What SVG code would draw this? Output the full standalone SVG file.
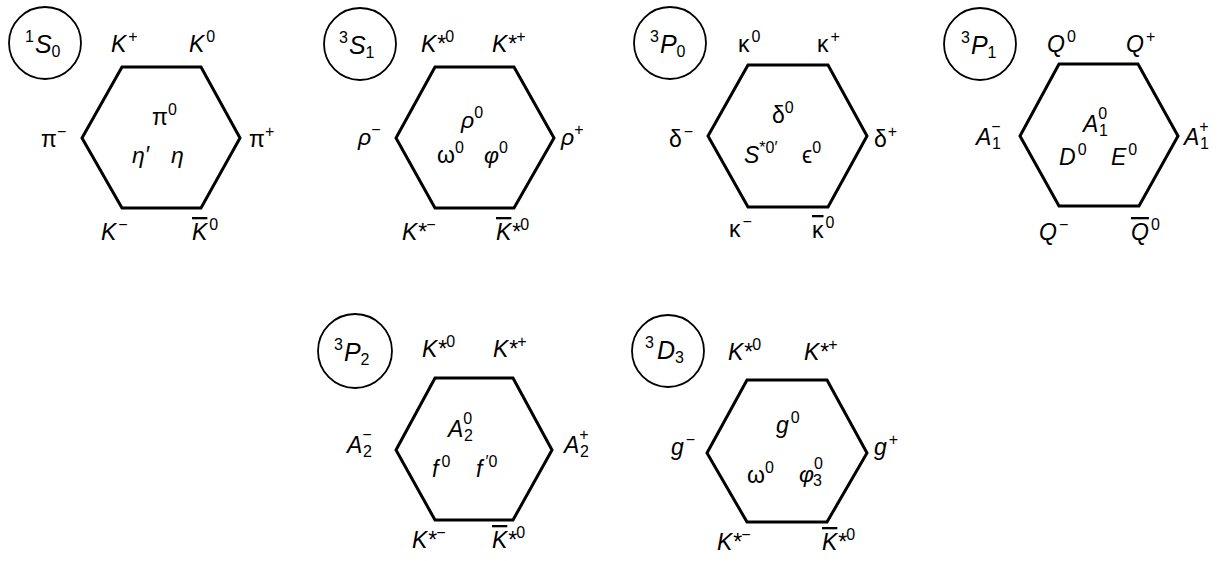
<svg xmlns="http://www.w3.org/2000/svg" width="1220" height="561" viewBox="0 0 1220 561">
<style>
.hex{fill:none;stroke:#000;stroke-width:3;stroke-linejoin:miter}
.ring{fill:none;stroke:#000;stroke-width:1.8}
text{font-family:"Liberation Sans",Arial,sans-serif;font-size:23px;font-style:italic;fill:#000}
.s{font-size:16px;font-style:normal}
.up{font-style:normal}
.t{font-size:25px}
.ob{text-decoration:overline}
</style>
<rect width="1220" height="561" fill="#fff"/>

<g id="m1S0">
<polygon class="hex" points="122,67 201,67 240,138 201,208 122,208 82,138"/>
<circle class="ring" cx="45" cy="43" r="36"/>
<text class="t" x="25" y="53"><tspan class="s" dy="-11">1</tspan><tspan dx="1" dy="11">S</tspan><tspan class="s" dy="4">0</tspan></text>
<text x="111" y="52">K<tspan class="s" dx="2" dy="-10">+</tspan></text>
<text x="189" y="52">K<tspan class="s" dx="2" dy="-10">0</tspan></text>
<text class="up" x="41" y="147">π<tspan class="s" dy="-10">−</tspan></text>
<text class="up" x="249" y="147">π<tspan class="s" dy="-10">+</tspan></text>
<text class="up" x="152" y="125">π<tspan class="s" dy="-10">0</tspan></text>
<text x="132" y="163">η′<tspan x="171">η</tspan></text>
<text x="101" y="240">K<tspan class="s" dx="2" dy="-10">−</tspan></text>
<text x="192" y="240"><tspan class="ob">K</tspan><tspan class="s" dx="2" dy="-10">0</tspan></text>
</g>

<g id="m3S1">
<polygon class="hex" points="435,67 514,67 554,138 514,208 435,208 396,138"/>
<circle class="ring" cx="360" cy="44" r="36"/>
<text class="t" x="339" y="54"><tspan class="s" dy="-11">3</tspan><tspan dx="1" dy="11">S</tspan><tspan class="s" dy="4">1</tspan></text>
<text x="421" y="52">K*<tspan class="s" dy="-10">0</tspan></text>
<text x="492" y="52">K*<tspan class="s" dy="-10">+</tspan></text>
<text x="358" y="145">ρ<tspan class="s" dy="-10">−</tspan></text>
<text x="561" y="145">ρ<tspan class="s" dy="-10">+</tspan></text>
<text x="461" y="128">ρ<tspan class="s" dy="-10">0</tspan></text>
<text class="up" x="437" y="163">ω<tspan class="s" dy="-10">0</tspan></text>
<text x="484" y="163">φ<tspan class="s" dy="-10">0</tspan></text>
<text x="402" y="240">K*<tspan class="s" dy="-10">−</tspan></text>
<text x="496" y="240"><tspan class="ob">K</tspan>*<tspan class="s" dy="-10">0</tspan></text>
</g>

<g id="m3P0">
<polygon class="hex" points="748,65 828,65 867,136 828,207 748,207 708,136"/>
<circle class="ring" cx="670" cy="43" r="36"/>
<text class="t" x="650" y="53"><tspan class="s" dy="-11">3</tspan><tspan dx="1" dy="11">P</tspan><tspan class="s" dy="4">0</tspan></text>
<text class="up" x="738" y="52">κ<tspan class="s" dx="2" dy="-10">0</tspan></text>
<text class="up" x="817" y="52">κ<tspan class="s" dx="2" dy="-10">+</tspan></text>
<text class="up" x="669" y="147">δ<tspan class="s" dx="2" dy="-10">−</tspan></text>
<text class="up" x="874" y="147">δ<tspan class="s" dx="1" dy="-10">+</tspan></text>
<text class="up" x="772" y="123">δ<tspan class="s" dy="-10">0</tspan></text>
<text x="744" y="163">S<tspan class="s" dy="-10">*0′</tspan></text>
<text class="up" x="802" y="163">ϵ<tspan class="s" dy="-10">0</tspan></text>
<text class="up" x="729" y="237">κ<tspan class="s" dx="2" dy="-10">−</tspan></text>
<text class="up" x="812" y="238"><tspan class="ob">κ</tspan><tspan class="s" dx="2" dy="-10">0</tspan></text>
</g>

<g id="m3P1">
<polygon class="hex" points="1059,64 1138,64 1178,136 1139,206 1059,206 1020,136"/>
<circle class="ring" cx="980" cy="44" r="36"/>
<text class="t" x="961" y="54"><tspan class="s" dy="-11">3</tspan><tspan dx="1" dy="11">P</tspan><tspan class="s" dy="4">1</tspan></text>
<text x="1047" y="52">Q<tspan class="s" dx="2" dy="-10">0</tspan></text>
<text x="1126" y="52">Q<tspan class="s" dx="2" dy="-10">+</tspan></text>
<text x="976" y="145">A<tspan class="s" dy="-13">−</tspan><tspan class="s" x="992" dy="17">1</tspan></text>
<text x="1184" y="145">A<tspan class="s" dy="-13">+</tspan><tspan class="s" x="1200" dy="17">1</tspan></text>
<text x="1083" y="132">A<tspan class="s" dy="-13">0</tspan><tspan class="s" x="1099" dy="17">1</tspan></text>
<text x="1059" y="165">D<tspan class="s" dx="2" dy="-10">0</tspan></text>
<text x="1111" y="165">E<tspan class="s" dx="2" dy="-10">0</tspan></text>
<text x="1039" y="240">Q<tspan class="s" dx="2" dy="-10">−</tspan></text>
<text x="1131" y="240"><tspan class="ob">Q</tspan><tspan class="s" dx="2" dy="-10">0</tspan></text>
</g>

<g id="m3P2">
<polygon class="hex" points="435,378 513,378 552,450 513,520 435,520 396,450"/>
<circle class="ring" cx="355" cy="351" r="37"/>
<text class="t" x="334" y="361"><tspan class="s" dy="-11">3</tspan><tspan dx="1" dy="11">P</tspan><tspan class="s" dy="4">2</tspan></text>
<text x="422" y="357">K*<tspan class="s" dy="-10">0</tspan></text>
<text x="493" y="357">K*<tspan class="s" dy="-10">+</tspan></text>
<text x="347" y="453">A<tspan class="s" dy="-13">−</tspan><tspan class="s" x="363" dy="17">2</tspan></text>
<text x="564" y="453">A<tspan class="s" dy="-13">+</tspan><tspan class="s" x="580" dy="17">2</tspan></text>
<text x="448" y="437">A<tspan class="s" dy="-13">0</tspan><tspan class="s" x="464" dy="17">2</tspan></text>
<text x="432" y="477">f<tspan class="s" dx="3" dy="-10">0</tspan></text>
<text x="476" y="477">f<tspan class="s" dx="3" dy="-10">′0</tspan></text>
<text x="412" y="548">K*<tspan class="s" dy="-10">−</tspan></text>
<text x="492" y="548"><tspan class="ob">K</tspan>*<tspan class="s" dy="-10">0</tspan></text>
</g>

<g id="m3D3">
<polygon class="hex" points="747,380 827,380 867,453 827,522 747,522 707,453"/>
<circle class="ring" cx="668" cy="351" r="36"/>
<text class="t" x="645" y="359"><tspan class="s" dy="-11">3</tspan><tspan dx="3" dy="11">D</tspan><tspan class="s" dy="4">3</tspan></text>
<text x="728" y="360">K*<tspan class="s" dy="-10">0</tspan></text>
<text x="804" y="360">K*<tspan class="s" dy="-10">+</tspan></text>
<text x="671" y="455">g<tspan class="s" dx="2" dy="-10">−</tspan></text>
<text x="874" y="455">g<tspan class="s" dx="2" dy="-10">+</tspan></text>
<text x="776" y="433">g<tspan class="s" dx="2" dy="-10">0</tspan></text>
<text class="up" x="747" y="483">ω<tspan class="s" dy="-10">0</tspan></text>
<text x="799" y="482">φ<tspan class="s" dy="-13">0</tspan><tspan class="s" x="813" dy="17">3</tspan></text>
<text x="717" y="550">K*<tspan class="s" dy="-10">−</tspan></text>
<text x="822" y="550"><tspan class="ob">K</tspan>*<tspan class="s" dy="-10">0</tspan></text>
</g>
</svg>
